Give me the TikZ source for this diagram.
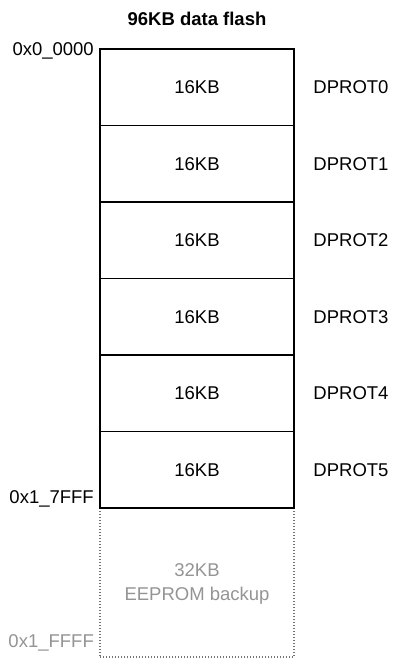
\documentclass[tikz,border=0pt]{standalone}
\usepackage{fontspec}
\setmainfont{Liberation Sans}
\begin{document}
\begin{tikzpicture}[x=1pt,y=-1pt,
  txt/.style={font=\fontsize{18.5}{22}\selectfont, inner sep=0pt, text height=13.2pt, text depth=0pt},
  row/.style={draw=black, line width=1.6pt, minimum width=194pt, minimum height=76.5pt, inner sep=0pt, txt},
  graytxt/.style={txt, text=black!42}]
\useasboundingbox (0,0) rectangle (395,660);
\node[txt, font=\fontsize{18.5}{22}\selectfont\bfseries] (title) at (197,18.5) {96KB data flash};
\node[draw=black!55, line width=1.4pt, dash pattern=on 1.4pt off 1.6pt, minimum width=194pt, minimum height=149pt, inner sep=0pt] (e) at (197,582.5) {};
\node[graytxt] (e1) at (197,570) {32KB};
\node[graytxt] (e2) at (197,594) {EEPROM backup};
\foreach \i in {0,...,5} {
  \node[row] (r\i) at (197,{87.25+76.5*\i}) {16KB};
  \node[txt] (d\i) at (351,{87.25+76.5*\i}) {DPROT\i};
}
\node[txt, anchor=east] (a0) at (94,49) {0x0\_0000};
\node[txt, anchor=east] (a1) at (94,497) {0x1\_7FFF};
\node[graytxt, anchor=east] (a2) at (94,641) {0x1\_FFFF};
\end{tikzpicture}
\end{document}
